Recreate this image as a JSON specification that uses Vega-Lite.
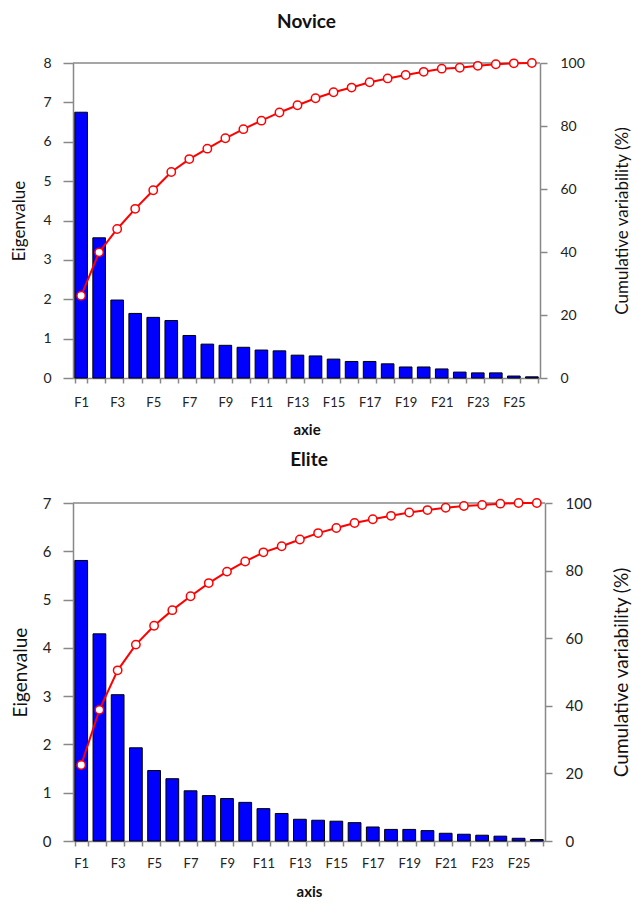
{
  "$schema": "https://vega.github.io/schema/vega-lite/v6.json",
  "background": "white",
  "padding": {"left": 10, "top": 12, "right": 0, "bottom": 5},
  "spacing": 13,
  "config": {
    "view": {"stroke": null},
    "font": "Lato",
    "axis": {
      "labelFont": "Lato",
      "titleFont": "Lato",
      "labelColor": "#222",
      "titleColor": "#111",
      "domainColor": "#888",
      "tickColor": "#888",
      "domainWidth": 1.5,
      "tickWidth": 1.5,
      "grid": false
    },
    "title": {"font": "Lato", "fontWeight": "bold", "color": "#111", "anchor": "middle"}
  },
  "datasets": {
    "novice": [
      {"factor": "F1", "eig": 6.75, "cum": 26.1},
      {"factor": "F2", "eig": 3.56, "cum": 39.9},
      {"factor": "F3", "eig": 1.98, "cum": 47.3},
      {"factor": "F4", "eig": 1.64, "cum": 53.7},
      {"factor": "F5", "eig": 1.54, "cum": 59.6},
      {"factor": "F6", "eig": 1.46, "cum": 65.4},
      {"factor": "F7", "eig": 1.08, "cum": 69.5},
      {"factor": "F8", "eig": 0.86, "cum": 72.8},
      {"factor": "F9", "eig": 0.83, "cum": 76.1},
      {"factor": "F10", "eig": 0.78, "cum": 79.0},
      {"factor": "F11", "eig": 0.71, "cum": 81.7},
      {"factor": "F12", "eig": 0.69, "cum": 84.3},
      {"factor": "F13", "eig": 0.58, "cum": 86.6},
      {"factor": "F14", "eig": 0.56, "cum": 88.8},
      {"factor": "F15", "eig": 0.48, "cum": 90.7},
      {"factor": "F16", "eig": 0.42, "cum": 92.2},
      {"factor": "F17", "eig": 0.42, "cum": 93.9},
      {"factor": "F18", "eig": 0.36, "cum": 95.1},
      {"factor": "F19", "eig": 0.28, "cum": 96.2},
      {"factor": "F20", "eig": 0.28, "cum": 97.2},
      {"factor": "F21", "eig": 0.23, "cum": 98.2},
      {"factor": "F22", "eig": 0.15, "cum": 98.5},
      {"factor": "F23", "eig": 0.13, "cum": 99.1},
      {"factor": "F24", "eig": 0.13, "cum": 99.6},
      {"factor": "F25", "eig": 0.05, "cum": 99.9},
      {"factor": "F26", "eig": 0.03, "cum": 100}
    ],
    "elite": [
      {"factor": "F1", "eig": 5.81, "cum": 22.5},
      {"factor": "F2", "eig": 4.29, "cum": 38.8},
      {"factor": "F3", "eig": 3.03, "cum": 50.5},
      {"factor": "F4", "eig": 1.93, "cum": 58.1},
      {"factor": "F5", "eig": 1.46, "cum": 63.7},
      {"factor": "F6", "eig": 1.29, "cum": 68.3},
      {"factor": "F7", "eig": 1.04, "cum": 72.4},
      {"factor": "F8", "eig": 0.94, "cum": 76.3},
      {"factor": "F9", "eig": 0.88, "cum": 79.7},
      {"factor": "F10", "eig": 0.80, "cum": 82.7},
      {"factor": "F11", "eig": 0.67, "cum": 85.4},
      {"factor": "F12", "eig": 0.57, "cum": 87.2},
      {"factor": "F13", "eig": 0.45, "cum": 89.2},
      {"factor": "F14", "eig": 0.43, "cum": 91.1},
      {"factor": "F15", "eig": 0.41, "cum": 92.6},
      {"factor": "F16", "eig": 0.38, "cum": 94.1},
      {"factor": "F17", "eig": 0.29, "cum": 95.2},
      {"factor": "F18", "eig": 0.24, "cum": 96.2},
      {"factor": "F19", "eig": 0.24, "cum": 97.2},
      {"factor": "F20", "eig": 0.215, "cum": 97.9},
      {"factor": "F21", "eig": 0.16, "cum": 98.6},
      {"factor": "F22", "eig": 0.14, "cum": 99.1},
      {"factor": "F23", "eig": 0.12, "cum": 99.4},
      {"factor": "F24", "eig": 0.10, "cum": 99.8},
      {"factor": "F25", "eig": 0.056, "cum": 100},
      {"factor": "F26", "eig": 0.03, "cum": 100}
    ]
  },
  "vconcat": [
    {
      "title": {"text": "Novice", "fontSize": 19, "offset": 24},
      "width": 467,
      "height": 315,
      "data": {"name": "novice"},
      "layer": [
        {
          "data": {"values": [{"top": 8}]},
          "mark": {"type": "rule", "color": "#888888", "strokeWidth": 1.5},
          "encoding": {
            "y": {"field": "top", "type": "quantitative", "scale": {"domain": [0, 8]}, "axis": null}
          }
        },
        {
          "mark": {"type": "bar", "color": "#0000FF", "stroke": "#000000", "strokeWidth": 1},
          "encoding": {
            "x": {
              "field": "factor", "type": "ordinal", "sort": null,
              "scale": {"paddingInner": 0.3, "paddingOuter": 0.1},
              "axis": {
                "title": "axie", "titleFontSize": 15, "titleFontWeight": "bold", "titlePadding": 13,
                "labelAngle": 0, "labelFontSize": 13, "labelPadding": 13, "tickSize": 5,
                "tickBand": "extent",
                "labelExpr": "indexof(['F1','F3','F5','F7','F9','F11','F13','F15','F17','F19','F21','F23','F25'], datum.value) >= 0 ? datum.value : ''"
              }
            },
            "y": {
              "field": "eig", "type": "quantitative",
              "scale": {"domain": [0, 8]},
              "axis": {
                "orient": "left", "title": "Eigenvalue", "titleFontSize": 17, "titleFontWeight": "normal",
                "titlePadding": 14, "values": [0, 1, 2, 3, 4, 5, 6, 7, 8],
                "labelFontSize": 14, "labelPadding": 12, "tickSize": 10
              }
            }
          }
        },
        {
          "mark": {"type": "line", "color": "#FF0000", "strokeWidth": 2},
          "encoding": {
            "x": {"field": "factor", "type": "ordinal", "sort": null},
            "y": {
              "field": "cum", "type": "quantitative",
              "scale": {"domain": [0, 100]},
              "axis": {
                "orient": "right", "title": "Cumulative variability (%)", "titleFontSize": 17,
                "titleFontWeight": "normal", "titleAngle": 270, "titlePadding": 47,
                "values": [0, 20, 40, 60, 80, 100],
                "labelFontSize": 14, "labelPadding": 13, "tickSize": 7
              }
            }
          }
        },
        {
          "mark": {"type": "point", "shape": "circle", "filled": true, "fill": "white", "stroke": "#FF0000", "strokeWidth": 1.5, "size": 70, "opacity": 1},
          "encoding": {
            "x": {"field": "factor", "type": "ordinal", "sort": null},
            "y": {"field": "cum", "type": "quantitative", "scale": {"domain": [0, 100]}, "axis": null}
          }
        }
      ],
      "resolve": {"scale": {"y": "independent"}}
    },
    {
      "title": {"text": "Elite", "fontSize": 19, "offset": 26},
      "width": 472,
      "height": 338,
      "data": {"name": "elite"},
      "layer": [
        {
          "data": {"values": [{"top": 7}]},
          "mark": {"type": "rule", "color": "#888888", "strokeWidth": 1.5},
          "encoding": {
            "y": {"field": "top", "type": "quantitative", "scale": {"domain": [0, 7]}, "axis": null}
          }
        },
        {
          "mark": {"type": "bar", "color": "#0000FF", "stroke": "#000000", "strokeWidth": 1},
          "encoding": {
            "x": {
              "field": "factor", "type": "ordinal", "sort": null,
              "scale": {"paddingInner": 0.3, "paddingOuter": 0.1},
              "axis": {
                "title": "axis", "titleFontSize": 15, "titleFontWeight": "bold", "titlePadding": 14,
                "labelAngle": 0, "labelFontSize": 13, "labelPadding": 11, "tickSize": 5,
                "tickBand": "extent",
                "labelExpr": "indexof(['F1','F3','F5','F7','F9','F11','F13','F15','F17','F19','F21','F23','F25'], datum.value) >= 0 ? datum.value : ''"
              }
            },
            "y": {
              "field": "eig", "type": "quantitative",
              "scale": {"domain": [0, 7]},
              "axis": {
                "orient": "left", "title": "Eigenvalue", "titleFontSize": 19, "titleFontWeight": "normal",
                "titlePadding": 12, "values": [0, 1, 2, 3, 4, 5, 6, 7],
                "labelFontSize": 15, "labelPadding": 12, "tickSize": 10
              }
            }
          }
        },
        {
          "mark": {"type": "line", "color": "#FF0000", "strokeWidth": 2},
          "encoding": {
            "x": {"field": "factor", "type": "ordinal", "sort": null},
            "y": {
              "field": "cum", "type": "quantitative",
              "scale": {"domain": [0, 100]},
              "axis": {
                "orient": "right", "title": "Cumulative variability (%)", "titleFontSize": 19,
                "titleFontWeight": "normal", "titleAngle": 270, "titlePadding": 40,
                "values": [0, 20, 40, 60, 80, 100],
                "labelFontSize": 15, "labelPadding": 13, "tickSize": 7
              }
            }
          }
        },
        {
          "mark": {"type": "point", "shape": "circle", "filled": true, "fill": "white", "stroke": "#FF0000", "strokeWidth": 1.5, "size": 70, "opacity": 1},
          "encoding": {
            "x": {"field": "factor", "type": "ordinal", "sort": null},
            "y": {"field": "cum", "type": "quantitative", "scale": {"domain": [0, 100]}, "axis": null}
          }
        }
      ],
      "resolve": {"scale": {"y": "independent"}}
    }
  ]
}
